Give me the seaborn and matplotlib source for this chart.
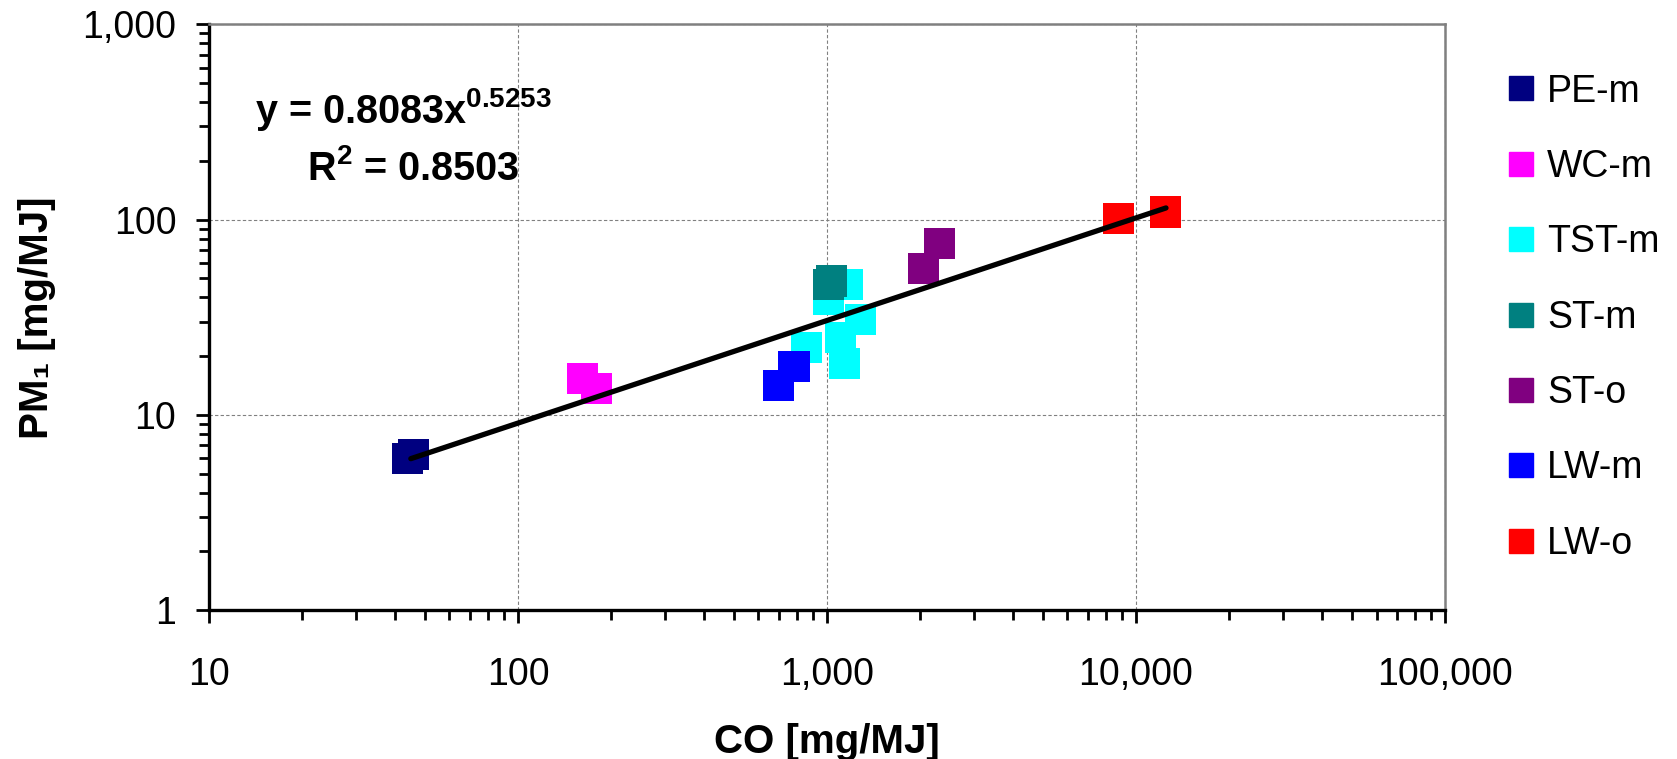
import numpy as np
import pandas as pd
import matplotlib
matplotlib.use("Agg")
import matplotlib.pyplot as plt
import seaborn as sns
from matplotlib.lines import Line2D
from matplotlib.ticker import FuncFormatter, LogLocator, NullFormatter

# Data
groups = ['PE-m', 'WC-m', 'TST-m', 'ST-m', 'ST-o', 'LW-m', 'LW-o']
colors = ['#000080', '#FF00FF', '#00FFFF', '#008080', '#800080', '#0000FF', '#FF0000']

pe_m_co = [44, 46]
pe_m_pm = [6.0, 6.3]
wc_m_co = [162, 179]
wc_m_pm = [15.3, 13.6]
tst_m_co = [1167, 1010, 1279, 857, 1109, 1137]
tst_m_pm = [46.7, 38.8, 30.9, 22.2, 24.9, 18.4]
st_m_co = [1010, 1035]
st_m_pm = [46.7, 48.5]
st_o_co = [2051, 2305]
st_o_pm = [56.3, 75.6]
lw_m_co = [696, 782]
lw_m_pm = [14.1, 17.7]
lw_o_co = [8770, 12470]
lw_o_pm = [101.4, 109.4]

# Power trendline from the chart: y = 0.8083 x^0.5253
trend_a = 0.8083
trend_b = 0.5253
trend_range = [45, 12500]

co_lists = [pe_m_co, wc_m_co, tst_m_co, st_m_co, st_o_co, lw_m_co, lw_o_co]
pm_lists = [pe_m_pm, wc_m_pm, tst_m_pm, st_m_pm, st_o_pm, lw_m_pm, lw_o_pm]

rows = []
for g, xs, ys in zip(groups, co_lists, pm_lists):
    for x, y in zip(xs, ys):
        rows.append([g, x, y])
df = pd.DataFrame(rows, columns=['Group', 'CO', 'PM1'])

sns.set_style('white')
plt.rcParams['font.family'] = ['Liberation Sans', 'DejaVu Sans']
plt.rcParams['mathtext.fontset'] = 'custom'
plt.rcParams['mathtext.rm'] = 'Liberation Sans'
plt.rcParams['mathtext.bf'] = 'Liberation Sans:bold'
plt.rcParams['text.color'] = 'black'
plt.rcParams['axes.labelcolor'] = 'black'
plt.rcParams['xtick.color'] = 'black'
plt.rcParams['ytick.color'] = 'black'

fig = plt.figure(figsize=(16.77, 7.59), dpi=100)
ax = fig.add_axes([0.1246, 0.196, 0.8617 - 0.1246, 0.968 - 0.196])

sns.scatterplot(data=df, x='CO', y='PM1', hue='Group', hue_order=groups,
                palette=dict(zip(groups, colors)), marker='s', s=500,
                linewidth=0, legend=False, ax=ax, zorder=3)

tx = np.logspace(np.log10(trend_range[0]), np.log10(trend_range[1]), 200)
ax.plot(tx, trend_a * tx ** trend_b, color='black', lw=3.8, zorder=4,
        solid_capstyle='round')

ax.set_xscale('log')
ax.set_yscale('log')
ax.set_xlim(10, 100000)
ax.set_ylim(1, 1000)

fmt = FuncFormatter(lambda v, p: f"{v:,.0f}")
ax.xaxis.set_major_formatter(fmt)
ax.yaxis.set_major_formatter(fmt)
ax.xaxis.set_minor_locator(LogLocator(base=10, subs=np.arange(2, 10)))
ax.yaxis.set_minor_locator(LogLocator(base=10, subs=np.arange(2, 10)))
ax.xaxis.set_minor_formatter(NullFormatter())
ax.yaxis.set_minor_formatter(NullFormatter())

ax.tick_params(axis='both', which='major', direction='out', length=9.5, width=2,
               labelsize=27, color='black', labelcolor='black', bottom=True, left=True)
ax.tick_params(axis='both', which='minor', direction='out', length=7, width=2,
               color='black', bottom=True, left=True)
ax.tick_params(axis='x', which='major', pad=24)
ax.tick_params(axis='y', which='major', pad=14)

ax.grid(True, which='major', color='#808080', linestyle=(0, (3, 2)), linewidth=0.8)
ax.set_axisbelow(True)

for side in ['left', 'bottom']:
    ax.spines[side].set_color('black')
    ax.spines[side].set_linewidth(2.4)
for side in ['top', 'right']:
    ax.spines[side].set_color('#808080')
    ax.spines[side].set_linewidth(1.8)

ax.set_xlabel('CO [mg/MJ]', fontsize=29, fontweight='bold', labelpad=22)
ax.set_ylabel('PM\u2081 [mg/MJ]', fontsize=29, fontweight='bold', labelpad=19)

ax.text(0.037, 0.831, r'y = 0.8083x$^{\mathbf{0.5253}}$', transform=ax.transAxes,
        fontsize=28.5, fontweight='bold', va='baseline', ha='left', zorder=5)
ax.text(0.079, 0.734, r'R$^{\mathbf{2}}$ = 0.8503', transform=ax.transAxes,
        fontsize=28.5, fontweight='bold', va='baseline', ha='left', zorder=5)

handles = [Line2D([], [], marker='s', linestyle='', color=c, markersize=17)
           for c in colors]
fig.legend(handles, groups, loc='upper left', bbox_to_anchor=(0.898, 0.903),
           bbox_transform=fig.transFigure, frameon=False, fontsize=27,
           handlelength=0.8, handletextpad=0.3, labelspacing=1.05,
           borderpad=0, borderaxespad=0)

fig.savefig('out.png', dpi=100)
plt.close(fig)
